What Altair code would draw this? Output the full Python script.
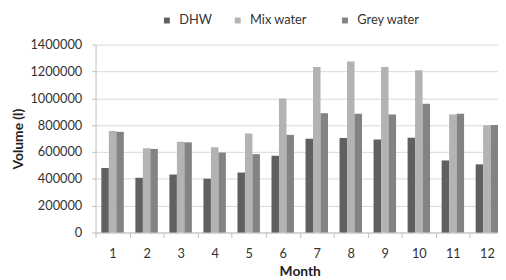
import altair as alt
import pandas as pd

months = [str(m) for m in range(1, 13)]
series = ["DHW", "Mix water", "Grey water"]
dhw = [481000, 408000, 432000, 401000, 447000, 572000, 699000, 704000, 694000, 706000, 537000, 508000]
mix = [757000, 628000, 677000, 635000, 738000, 999000, 1234000, 1275000, 1234000, 1209000, 880000, 799000]
grey = [750000, 623000, 672000, 596000, 584000, 728000, 889000, 884000, 880000, 960000, 884000, 801000]
colors = ["#606060", "#b3b3b3", "#838383"]
legend_x = [66, 138, 247]

rows = []
for name, vals in zip(series, [dhw, mix, grey]):
    for m, v in zip(months, vals):
        rows.append({"Month": m, "Series": name, "Volume": v})
df = pd.DataFrame(rows)

FONT = "Lato"
half = 415 / 12 / 2

x_enc = alt.X("Month:N", sort=months, title="Month",
              scale=alt.Scale(range=[0, 415], paddingInner=0.34, paddingOuter=0.17),
              axis=alt.Axis(labelAngle=0, tickOffset=-half, labelOffset=half,
                            tickSize=5, tickColor="#bfbfbf", domainColor="#bfbfbf",
                            labelFontSize=13, labelColor="#333333", labelPadding=10,
                            titleFontSize=14, titleFontWeight="bold", titleColor="#222222",
                            titlePadding=5, labelFont=FONT, titleFont=FONT))
xo_enc = alt.XOffset("Series:N", sort=series,
                     scale=alt.Scale(domain=series, paddingInner=0, paddingOuter=0))
y_enc = alt.Y("Volume:Q", title="Volume (l)",
              scale=alt.Scale(domain=[0, 1400000], nice=False),
              axis=alt.Axis(values=[0, 200000, 400000, 600000, 800000, 1000000, 1200000, 1400000],
                            format="d", tickSize=4, tickColor="#bfbfbf", domainColor="#bfbfbf",
                            gridColor="#d9d9d9", labelFontSize=13, labelColor="#333333",
                            labelPadding=10, titleFontSize=14, titleFontWeight="bold",
                            titleColor="#222222", titlePadding=4, labelFont=FONT, titleFont=FONT))

layers = []
for name, col, lx in zip(series, colors, legend_x):
    layers.append(
        alt.Chart(df).transform_filter(alt.datum.Series == name).mark_bar().encode(
            x=x_enc, xOffset=xo_enc, y=y_enc,
            color=alt.Color("Series:N", scale=alt.Scale(domain=[name], range=[col]),
                            legend=alt.Legend(title=None, orient="none", legendX=lx, legendY=-31,
                                              symbolType="square", symbolSize=36,
                                              symbolStrokeWidth=0, labelFontSize=13,
                                              labelFont=FONT, labelColor="#333333",
                                              labelOffset=6)),
        )
    )

chart = alt.layer(*layers).resolve_scale(color="independent").properties(
    width=409, height=191,
    autosize=alt.AutoSizeParams(type="none"),
    padding={"left": 89, "top": 35, "right": 0, "bottom": 44},
).configure_view(stroke=None).configure_axis(grid=False).configure_axisY(grid=True)

chart.save("out.html", embed_options={"renderer": "svg", "actions": False})
